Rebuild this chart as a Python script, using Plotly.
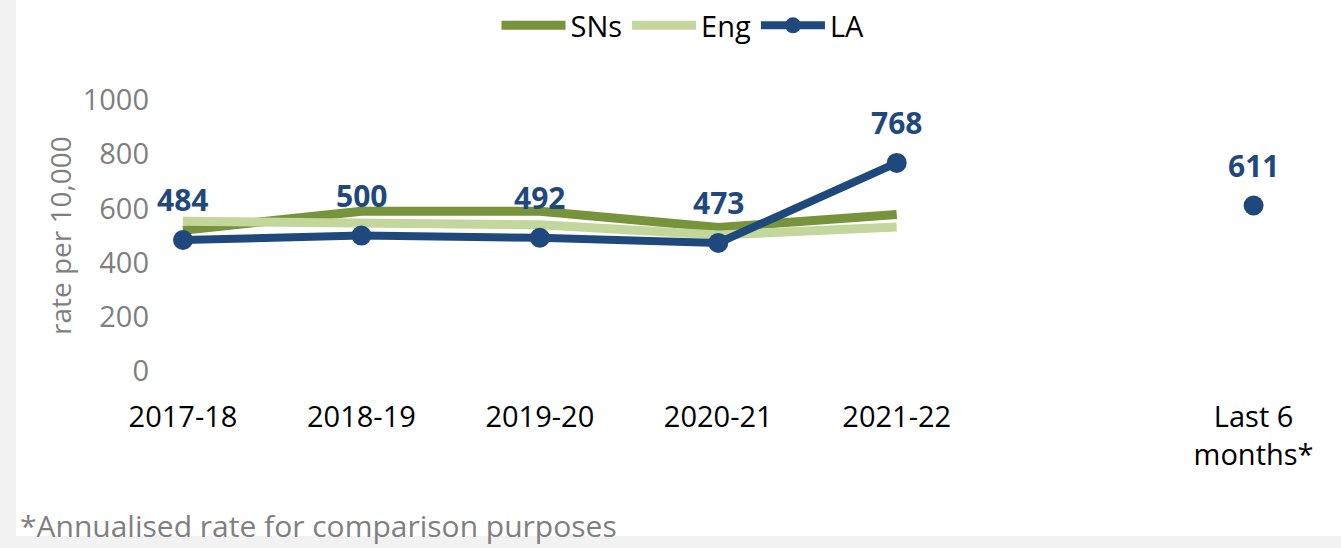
import plotly.graph_objects as go

categories = ["2017-18", "2018-19", "2019-20", "2020-21", "2021-22", "", "Last 6<br>months*"]
sns = [520, 590, 590, 530, 578, None, None]
eng = [553, 546, 540, 502, 532, None, None]
la = [484, 500, 492, 473, 768, None, 611]
yticks = [0, 200, 400, 600, 800, 1000]

x = list(range(len(categories)))
tickpos = [i for i, c in enumerate(categories) if c]
ticklab = [c for c in categories if c]

C_SNS = "#77933c"
C_ENG = "#c3d69b"
C_LA = "#1f497d"
FONT = "Open Sans"

W, H = 1341, 548
L, R, T, B = 158, 0, 100, 151
PW, PH = W - L - R, H - T - B

def px(xp):
    return (xp - L) / PW

def py(yp):
    return (H - B - yp) / PH

fig = go.Figure()
fig.add_trace(go.Scatter(x=x, y=sns, name="SNs", mode="lines",
                         line=dict(color=C_SNS, width=9), connectgaps=False))
fig.add_trace(go.Scatter(x=x, y=eng, name="Eng", mode="lines",
                         line=dict(color=C_ENG, width=9), connectgaps=False))
fig.add_trace(go.Scatter(x=x, y=la, name="LA", mode="lines+markers",
                         line=dict(color=C_LA, width=8),
                         marker=dict(size=20, color=C_LA), connectgaps=False))

for xi, v in zip(x, la):
    if v is not None:
        fig.add_annotation(x=xi, y=v, text=f"<b>{v}</b>", showarrow=False,
                           yshift=40, font=dict(family=FONT, size=30, color=C_LA))

fig.add_annotation(xref="paper", yref="paper", x=px(60), y=py(235),
                   xanchor="center", yanchor="middle",
                   text="rate per 10,000", textangle=-90, showarrow=False,
                   font=dict(family=FONT, size=28, color="#7f7f7f"))
fig.add_annotation(xref="paper", yref="paper", x=px(18), y=py(525),
                   xanchor="left", yanchor="middle",
                   text="*Annualised rate for comparison purposes", showarrow=False,
                   font=dict(family=FONT, size=30, color="#7f7f7f"))

fig.add_shape(type="rect", xref="paper", yref="paper", layer="below",
              x0=px(0), x1=px(16), y0=py(H), y1=py(0),
              fillcolor="#f2f2f2", line=dict(width=0))
fig.add_shape(type="rect", xref="paper", yref="paper", layer="below",
              x0=px(0), x1=px(W), y0=py(H), y1=py(536),
              fillcolor="#f2f2f2", line=dict(width=0))

fig.update_layout(
    width=W, height=H,
    margin=dict(l=L, r=R, t=T, b=B, pad=0),
    paper_bgcolor="white", plot_bgcolor="white",
    font=dict(family=FONT, size=29, color="#000000"),
    showlegend=True,
    legend=dict(orientation="h", x=px(683), xanchor="center", y=py(0), yanchor="top",
                font=dict(family=FONT, size=29, color="#000000"),
                itemwidth=64, tracegroupgap=0, bgcolor="rgba(0,0,0,0)"),
    xaxis=dict(range=[-0.14, 6.49], tickmode="array", tickvals=tickpos, ticktext=ticklab,
               showgrid=False, zeroline=False, showline=False, ticks="",
               tickfont=dict(family=FONT, size=29, color="#000000")),
    yaxis=dict(range=[-95, 1000], tickmode="array", tickvals=yticks,
               showgrid=False, zeroline=False, showline=False, ticks="",
               ticklabelstandoff=8,
               tickfont=dict(family=FONT, size=29, color="#7f7f7f")),
)

fig.write_html("out.html", config={"displayModeBar": False},
               post_script="document.body.style.margin='0';document.body.style.overflow='hidden';")
